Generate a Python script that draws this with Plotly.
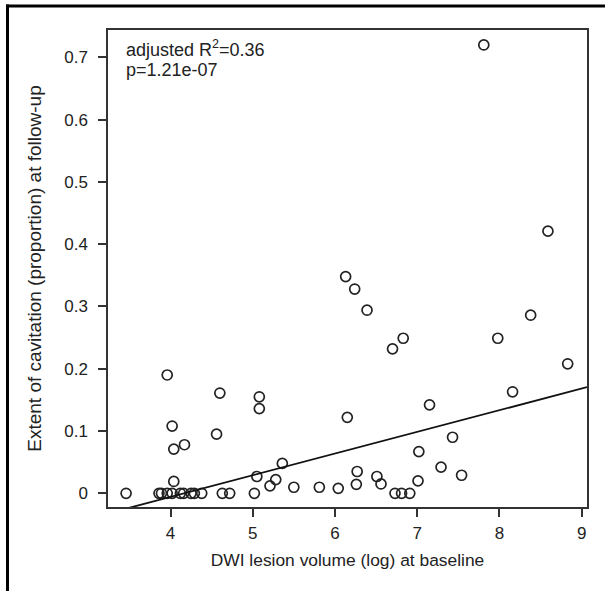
import plotly.graph_objects as go

# ---- data ----
dwi_volume_log = [
    3.46, 3.86, 3.89, 3.96, 4.02, 4.12, 4.16, 4.25, 4.29, 4.38,
    3.96, 4.02, 4.04, 4.17, 4.04, 4.60, 4.56, 4.63, 4.72,
    5.08, 5.08, 5.02, 5.05, 5.21, 5.28, 5.36, 5.50, 5.81, 6.04,
    6.15, 6.27, 6.26, 6.51, 6.56, 6.73, 6.81, 6.91, 7.01, 7.02,
    7.15, 7.43, 7.29, 7.54, 8.16, 8.83,
    6.13, 6.24, 6.39, 6.83, 6.70, 7.98, 8.38, 8.59, 7.81,
]
cavitation_proportion = [
    0.0, 0.0, 0.0, 0.0, 0.0, 0.0, 0.0, 0.0, 0.0, 0.0,
    0.190, 0.108, 0.071, 0.078, 0.019, 0.161, 0.095, 0.0, 0.0,
    0.155, 0.136, 0.0, 0.027, 0.012, 0.022, 0.048, 0.0097, 0.0097, 0.008,
    0.122, 0.035, 0.0144, 0.027, 0.015, 0.0, 0.0, 0.0, 0.020, 0.067,
    0.142, 0.090, 0.042, 0.029, 0.163, 0.208,
    0.348, 0.328, 0.294, 0.249, 0.232, 0.249, 0.286, 0.421, 0.720,
]
fit_slope = 0.0348
fit_intercept = -0.1450
x_range = [3.24, 9.065]
y_range = [-0.022, 0.744]
x_ticks = [4, 5, 6, 7, 8, 9]
y_ticks = [0, 0.1, 0.2, 0.3, 0.4, 0.5, 0.6, 0.7]
y_tick_labels = ["0", "0.1", "0.2", "0.3", "0.4", "0.5", "0.6", "0.7"]

W, H = 605, 591
ML, MR, MT, MB = 108, 18, 30, 84
PW, PH = W - ML - MR, H - MT - MB

FONT = "Liberation Sans, Arial, sans-serif"
INK = "#222222"

fig = go.Figure()
fig.add_trace(go.Scatter(
    x=dwi_volume_log, y=cavitation_proportion, mode="markers",
    marker=dict(symbol="circle-open", size=10, color=INK, line=dict(width=1.7, color=INK)),
    showlegend=False, cliponaxis=False,
))
fig.add_trace(go.Scatter(
    x=x_range, y=[fit_intercept + fit_slope * v for v in x_range], mode="lines",
    line=dict(color="#111111", width=1.8), showlegend=False,
))

axis_common = dict(
    showgrid=False, zeroline=False, showline=True, mirror=True,
    linecolor="#333333", linewidth=1.5, ticks="outside", ticklen=8, tickwidth=1.5,
    tickcolor="#333333", tickfont=dict(family=FONT, size=17, color=INK),
)
fig.update_xaxes(range=x_range, tickvals=x_ticks, ticklabelstandoff=2, **axis_common,
                 title=dict(text="DWI lesion volume (log) at baseline",
                            font=dict(family=FONT, size=17.4, color=INK), standoff=12))
fig.update_yaxes(range=y_range, tickvals=y_ticks, ticktext=y_tick_labels,
                 ticklabelstandoff=7, **axis_common,
                 title=dict(text="Extent of cavitation (proportion) at follow-up",
                            font=dict(family=FONT, size=19, color=INK), standoff=18))

def px_x(p):
    return (p - ML) / PW

def px_y(p):
    return (H - MB - p) / PH

fig.add_annotation(text="adjusted R<sup style='font-size:14px'>2</sup>=0.36",
                   xref="paper", yref="paper",
                   x=px_x(124), y=px_y(48), xanchor="left", yanchor="middle",
                   showarrow=False, font=dict(family=FONT, size=18, color=INK))
fig.add_annotation(text="p=1.21e-07", xref="paper", yref="paper",
                   x=px_x(124), y=px_y(70), xanchor="left", yanchor="middle",
                   showarrow=False, font=dict(family=FONT, size=18, color=INK))

# outer frame (top and left edges)
fig.add_shape(type="line", xref="paper", yref="paper", layer="above",
              x0=px_x(6), x1=px_x(W + 5), y0=px_y(6), y1=px_y(6),
              line=dict(color="#000000", width=3))
fig.add_shape(type="line", xref="paper", yref="paper", layer="above",
              x0=px_x(7.5), x1=px_x(7.5), y0=px_y(4.5), y1=px_y(H + 5),
              line=dict(color="#000000", width=3))

fig.update_layout(
    width=W, height=H, margin=dict(l=ML, r=MR, t=MT, b=MB),
    paper_bgcolor="white", plot_bgcolor="white",
    font=dict(family=FONT, color=INK),
)
fig.write_html("out.html", config={"displayModeBar": False},
               post_script="document.body.style.margin='0';document.body.style.overflow='hidden';")
